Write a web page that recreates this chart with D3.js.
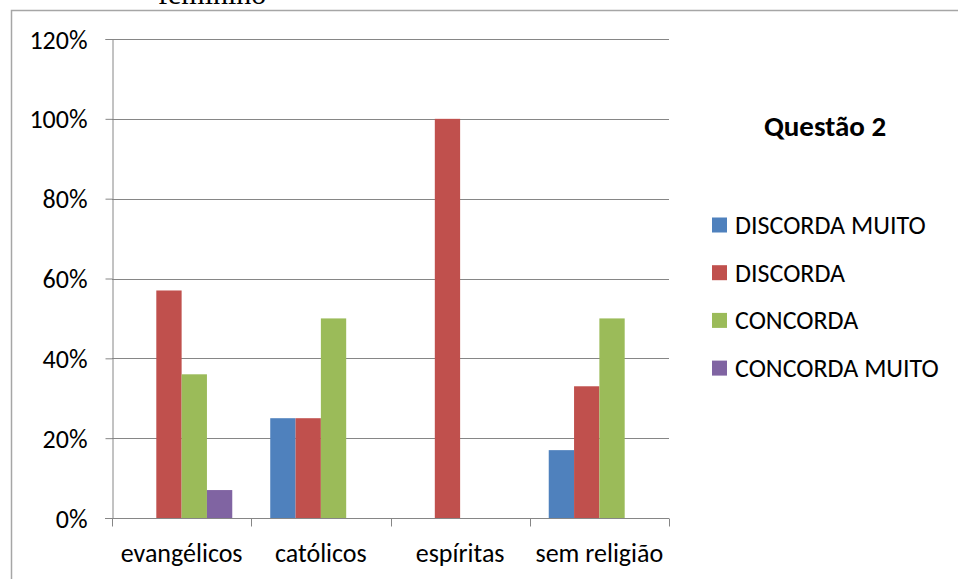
<!DOCTYPE html>
<html>
<head>
<meta charset="utf-8">
<script src="https://cdn.jsdelivr.net/npm/d3@7"></script>
<style>
  html, body { margin: 0; padding: 0; background: #fff; }
  svg { display: block; }
  text { font-family: Carlito, Lato, "Open Sans", sans-serif; fill: #000; }
</style>
</head>
<body>
<svg id="chart" width="958" height="579"></svg>
<script>
// Religious groups on the x axis
const categories = ["evangélicos", "católicos", "espíritas", "sem religião"];
// Answer options, one series each
const seriesNames = ["DISCORDA MUITO", "DISCORDA", "CONCORDA", "CONCORDA MUITO"];
const seriesColors = ["#4f81bd", "#c0504d", "#9bbb59", "#8064a2"];
// Share of answers per group, in percent (0 = no bar)
const discordaMuito = [0, 25, 0, 17];
const discorda = [57, 25, 100, 33];
const concorda = [36, 50, 0, 50];
const concordaMuito = [7, 0, 0, 0];
const seriesValues = [discordaMuito, discorda, concorda, concordaMuito];
const yTicks = [0, 20, 40, 60, 80, 100, 120];
const chartTitle = "Questão 2";
const captionAbove = "feminino";

const svg = d3.select("#chart");
const labelFont = "Carlito, Lato, 'Open Sans', sans-serif";

// Frame around the chart object
svg.append("path")
  .attr("d", "M11.5,579 V10.5 H958")
  .attr("fill", "none")
  .attr("stroke", "#a6a6a6")
  .attr("stroke-width", 1.5);

// Caption of the page text, running off the top edge
svg.append("text")
  .attr("x", 158).attr("y", 4)
  .style("font-family", "'Liberation Serif', serif")
  .style("font-size", "30px")
  .text(captionAbove);

const plot = { left: 112, right: 669, top: 39, bottom: 518 };

const x0 = d3.scaleBand()
  .domain(categories)
  .range([plot.left, plot.right])
  .padding(0);

// Gap width of 150% of a bar, split evenly on both sides of a group
const x1 = d3.scaleBand()
  .domain(d3.range(seriesNames.length))
  .range([0, x0.bandwidth()])
  .paddingInner(0)
  .paddingOuter(0.75);

const y = d3.scaleLinear().domain([0, 120]).range([plot.bottom, plot.top]);

// Horizontal gridlines
svg.append("g")
  .selectAll("line")
  .data(yTicks.filter(t => t > 0))
  .join("line")
  .attr("x1", plot.left).attr("x2", plot.right)
  .attr("y1", d => Math.round(y(d)) + 0.5).attr("y2", d => Math.round(y(d)) + 0.5)
  .attr("stroke", "#868686").attr("stroke-width", 1);

// Bars
const groups = svg.append("g")
  .selectAll("g")
  .data(categories)
  .join("g")
  .attr("transform", d => `translate(${x0(d)},0)`);

groups.selectAll("rect")
  .data((c, ci) => seriesValues.map((vals, si) => ({ si, v: vals[ci] })).filter(d => d.v > 0))
  .join("rect")
  .attr("x", d => x1(d.si))
  .attr("width", x1.bandwidth())
  .attr("y", d => y(d.v))
  .attr("height", d => y(0) - y(d.v))
  .attr("fill", d => seriesColors[d.si]);

// Y axis
const yAxis = d3.axisLeft(y)
  .tickValues(yTicks)
  .tickSize(7)
  .tickPadding(18)
  .tickFormat(d => d + "%");
const yg = svg.append("g")
  .attr("transform", `translate(${plot.left + 0.5},0)`)
  .call(yAxis);
yg.select(".domain").attr("stroke", "#868686");
yg.selectAll(".tick line").attr("stroke", "#868686");
yg.selectAll(".tick text")
  .attr("dy", null)
  .attr("y", 9)
  .style("font-size", "26px")
  .style("font-family", labelFont)
  .attr("fill", "#000");

// X axis with ticks at category boundaries
const xg = svg.append("g").attr("transform", `translate(0,${plot.bottom + 0.5})`);
xg.append("line")
  .attr("x1", plot.left - 7).attr("x2", plot.right)
  .attr("stroke", "#868686");
const boundaries = categories.map(c => x0(c)).concat([x0(categories[categories.length - 1]) + x0.bandwidth()]);
xg.selectAll("line.tk")
  .data(boundaries)
  .join("line")
  .attr("class", "tk")
  .attr("x1", d => Math.round(d) + 0.5).attr("x2", d => Math.round(d) + 0.5)
  .attr("y1", 0).attr("y2", 8)
  .attr("stroke", "#868686");
xg.selectAll("text")
  .data(categories)
  .join("text")
  .attr("x", d => x0(d) + x0.bandwidth() / 2)
  .attr("y", 43.5)
  .attr("text-anchor", "middle")
  .style("font-size", "26px")
  .text(d => d);

// Title
svg.append("text")
  .attr("x", 825).attr("y", 136)
  .attr("text-anchor", "middle")
  .style("font-size", "29px")
  .style("font-weight", "bold")
  .text(chartTitle);

// Legend
const legend = svg.append("g")
  .selectAll("g")
  .data(seriesNames)
  .join("g")
  .attr("transform", (d, i) => `translate(712,${225 + i * 47.7})`);
legend.append("rect")
  .attr("x", 0).attr("y", -7.5)
  .attr("width", 15).attr("height", 15)
  .attr("fill", (d, i) => seriesColors[i]);
legend.append("text")
  .attr("x", 23).attr("y", 9)
  .style("font-size", "26px")
  .text(d => d);
</script>
</body>
</html>
